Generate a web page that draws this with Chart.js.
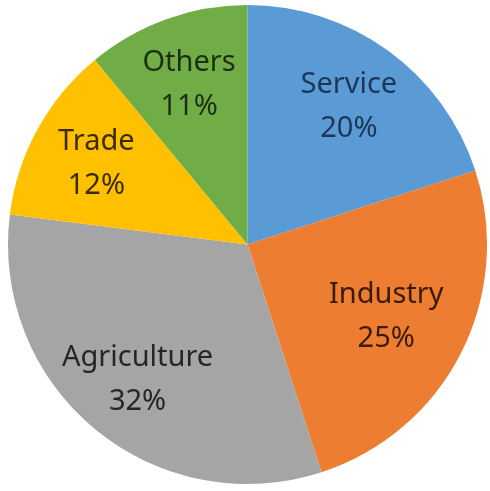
<!DOCTYPE html>
<html lang="en">
<head>
  <meta charset="UTF-8">
  <title>Sector share</title>
  <script src="https://cdn.jsdelivr.net/npm/chart.js"></script>
  <style>
    html, body {
      margin: 0;
      padding: 0;
      background: #ffffff;
    }
    #wrap {
      width: 490px;
      height: 491px;
    }
  </style>
</head>
<body>
  <div id="wrap"><canvas id="pieChart"></canvas></div>

  <script>
    // data
    const categories = ['Service', 'Industry', 'Agriculture', 'Trade', 'Others'];
    const shares = [20, 25, 32, 12, 11];

    const sliceColors = ['#5B9BD5', '#ED7D31', '#A5A5A5', '#FFC000', '#70AD47'];
    const textColors = ['#1d3557', '#3a1c08', '#262626', '#3b2c00', '#1b3010'];

    // labels drawn inside each slice: name on one line, percent below
    const sliceLabels = {
      id: 'sliceLabels',
      afterDatasetsDraw(chart) {
        const ctx = chart.ctx;
        const meta = chart.getDatasetMeta(0);
        const total = shares.reduce((a, b) => a + b, 0);
        ctx.save();
        ctx.font = '29px "Noto Sans", sans-serif';
        ctx.textAlign = 'center';
        ctx.textBaseline = 'middle';
        meta.data.forEach((arc, i) => {
          const p = arc.getProps(['x', 'y', 'startAngle', 'endAngle', 'outerRadius'], true);
          const mid = (p.startAngle + p.endAngle) / 2;
          const r = p.outerRadius * (i === 1 ? 0.65 : 0.72);
          const cx = p.x + Math.cos(mid) * r;
          const cy = p.y + Math.sin(mid) * r;
          const pct = Math.round(shares[i] / total * 100) + '%';
          ctx.fillStyle = textColors[i];
          ctx.fillText(categories[i], cx, cy - 20);
          ctx.fillText(pct, cx, cy + 24);
        });
        ctx.restore();
      }
    };

    new Chart(document.getElementById('pieChart'), {
      type: 'pie',
      data: {
        labels: categories,
        datasets: [{
          data: shares,
          backgroundColor: sliceColors,
          borderWidth: 0
        }]
      },
      options: {
        responsive: true,
        maintainAspectRatio: false,
        animation: false,
        layout: {
          padding: { left: 8, right: 3, top: 3, bottom: 5 }
        },
        plugins: {
          legend: { display: false },
          tooltip: { enabled: false }
        }
      },
      plugins: [sliceLabels]
    });
  </script>
</body>
</html>
